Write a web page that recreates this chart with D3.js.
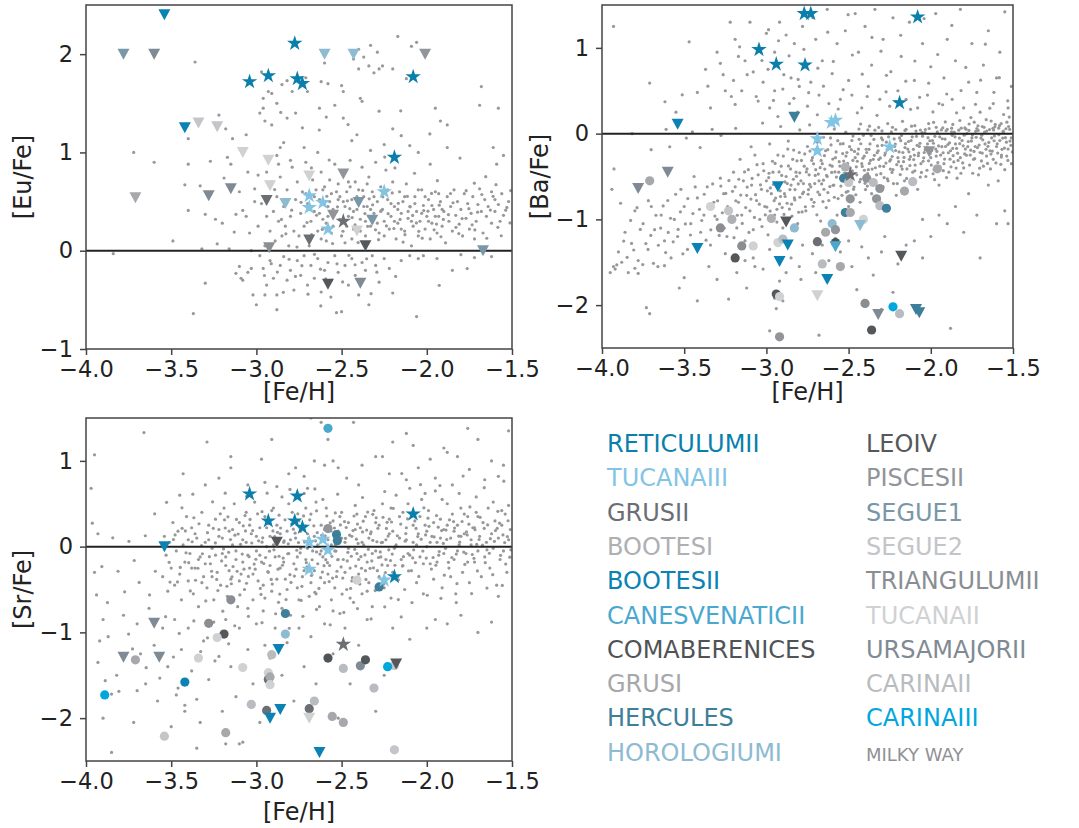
<!DOCTYPE html>
<html><head><meta charset="utf-8">
<script src="https://cdn.jsdelivr.net/npm/d3@7"></script>
<style>body{margin:0;background:#fff}svg{display:block}text{font-family:"DejaVu Sans",sans-serif}</style>
</head><body><svg id="c" width="1079" height="828"></svg>
<script>
const galaxies = ["RETICULUMII","TUCANAIII","GRUSII","BOOTESI","BOOTESII","CANESVENATICII","COMABERENICES","GRUSI","HERCULES","HOROLOGIUMI","LEOIV","PISCESII","SEGUE1","SEGUE2","TRIANGULUMII","TUCANAII","URSAMAJORII","CARINAII","CARINAIII"];
const galaxyColors = ["#0b7fab","#82c4e4","#6b6e72","#aeb0b3","#0a82b4","#4aa8cf","#505356","#a6a8ab","#3d7f9a","#8dbbd1","#55585b","#919499","#7a97a8","#c3c5c8","#8a8d92","#cfd1d3","#7f8a94","#b8bcc0","#00a7de"];
const mwLabel = "MILKY WAY", mwColor = "#989899";
const xTicks = [-4.0,-3.5,-3.0,-2.5,-2.0,-1.5];
const euTicks = [-1,0,1,2], baTicks = [-2,-1,0,1], srTicks = [-2,-1,0,1];

const mwEu = [[-3.84,-0.03],[-3.72,1.0],[-3.6,0.9],[-3.49,0.1],[-3.42,0.67],[-3.4,0.88],[-3.4,1.14],[-3.4,0.41],[-3.37,-0.64],[-3.33,0.66],[-3.3,0.37],[-3.32,0.02],[-3.3,-0.33],[-3.27,0.57],[-3.24,0.32],[-3.23,0.07],[-3.2,0.28],[-3.22,1.38],[-3.18,1.24],[-3.17,0.95],[-3.15,0.88],[-3.16,0.02],[-3.14,1.14],[-3.13,0.19],[-3.12,0.37],[-3.1,-0.16],[-3.12,-0.23],[-3.09,-0.28],[-3.1,0.6],[-3.08,0.41],[-3.06,0.35],[-3.05,0.8],[-3.04,0.18],[-3.03,0.0],[-3.03,-0.18],[-3.02,-0.45],[-3.01,0.5],[-3.0,-0.55],
[-3.36,1.92],[-2.97,1.82],[-2.93,1.62],[-2.91,1.60],[-2.88,1.50],[-2.96,1.55],[-2.96,1.45],[-2.98,1.40],[-2.85,1.69],[-2.82,1.73],[-2.79,1.62],[-2.71,1.76],[-2.70,1.62],[-2.62,1.72],[-2.60,1.91],[-2.58,1.70],[-2.50,1.68],[-2.49,1.62],[-2.43,1.95],[-2.40,2.05],[-2.40,1.85],[-2.37,1.97],[-2.33,2.09],[-2.29,2.02],[-2.26,1.88],[-2.20,1.85],[-2.17,2.18],[-2.12,1.75],[-2.06,2.12],[-2.09,2.08],[-2.31,1.81],[-2.28,1.85],[-2.34,1.88],[-2.38,1.52],[-2.39,1.55],[-2.28,1.42],[-2.41,1.18],[-2.49,1.35],[-2.54,1.48],[-2.63,1.45],[-2.59,1.36],[-2.77,1.40],[-2.82,1.35],[-2.91,1.28],[-2.95,1.32],[-2.20,1.24],[-1.95,1.45],[-1.92,1.32],[-1.88,1.28],[-1.68,1.67],[-1.69,1.48],[-1.58,1.45],[-1.55,0.97],[-1.61,1.05],[-1.59,0.88],[-1.88,1.05],[-1.98,0.88],[-2.05,1.0],[-2.1,1.07],[-2.15,1.17],[-2.25,1.08],[-2.33,1.02],[-2.44,1.12],[-2.64,1.0],[-2.73,1.25],[-2.72,1.05],[-2.80,0.92],[-2.86,1.05],[-2.88,0.97],[-2.87,0.88],[-2.84,1.1],[-2.94,0.8],[-2.99,0.77],[-3.01,0.63],[-2.91,0.7],
[-1.52,0.50],[-1.53,0.44],[-1.55,0.36],[-1.56,0.58],[-1.57,0.30],[-1.58,0.47],[-1.60,0.52],[-1.60,0.40],[-1.62,0.60],[-1.62,0.28],[-1.64,0.45],[-1.65,0.35],[-1.66,0.52],[-1.67,0.18],[-1.68,0.40],[-1.69,0.63],[-1.70,0.47],[-1.71,0.30],[-1.72,0.12],[-1.73,0.55],[-1.74,0.38],[-1.75,0.22],[-1.76,0.48],[-1.77,0.33],[-1.78,0.58],[-1.79,0.15],[-1.80,0.42],[-1.81,0.27],[-1.82,0.50],[-1.83,0.36],[-1.84,0.62],[-1.85,0.20],[-1.86,0.45],[-1.87,0.30],[-1.88,0.55],[-1.89,0.08],[-1.90,0.40],[-1.91,0.25],[-1.92,0.50],[-1.93,0.35],[-1.94,0.18],[-1.95,0.60],[-1.96,0.42],[-1.97,0.28],[-1.98,0.12],[-1.99,0.52],[-2.00,0.35],[-2.01,0.22],[-2.02,0.46],[-2.03,0.62],[-2.04,0.30],[-2.05,0.15],[-2.06,0.40],[-2.07,0.55],[-2.08,0.25],[-2.09,0.05],[-2.10,0.45],[-2.11,0.33],[-2.12,0.68],[-2.13,0.20],[-2.14,0.50],[-2.15,0.38],[-2.16,0.60],[-2.17,0.28],[-2.18,0.12],[-2.19,0.45],[-2.20,0.70],[-2.21,0.35],[-2.22,0.22],[-2.23,0.52],[-2.24,0.82],[-2.25,0.30],[-2.26,0.42],[-2.27,0.65],[-2.28,0.18],[-2.29,0.50],[-2.30,0.90],[-2.31,0.38],[-2.32,0.60],[-2.33,0.25],[-2.34,0.75],[-2.35,0.45],[-2.36,0.15],[-2.37,0.55],[-2.38,0.85],[-2.39,0.32],[-2.40,0.62],[-2.41,0.42],[-2.42,0.70],[-2.43,0.22],[-2.44,0.52],[-2.45,0.92],[-2.46,0.35],[-2.47,0.60],[-2.48,0.45],[-2.49,0.78],[-2.50,0.15],[-2.51,0.55],[-2.52,0.68],[-2.53,0.40],[-2.54,0.88],[-2.55,0.25],[-2.56,0.58],[-2.57,0.72],[-2.58,0.45],[-2.59,0.10],[-2.60,0.65],[-2.61,0.32],[-2.62,0.80],[-2.63,0.52],[-2.64,0.20],[-2.65,0.62],[-2.66,0.40],[-2.67,0.72],[-2.68,0.30],[-2.69,0.05],[-2.70,0.48],[-2.71,0.90],[-2.72,0.25],[-2.73,0.60],[-2.74,0.38],[-2.75,0.15],[-2.76,0.70],[-2.77,0.52],[-2.78,0.20],[-2.79,0.85],[-2.80,0.35],[-2.81,0.05],[-2.82,0.62],[-2.83,0.25],[-2.84,0.45],[-2.85,0.15],[-2.86,0.75],[-2.87,0.30],[-2.88,0.55],[-2.89,0.10],[-2.90,0.40],[-2.92,0.20],[-2.94,0.35],[-2.95,0.05],[-2.97,0.48],[-2.99,0.25],
[-2.98,-0.05],[-2.96,-0.18],[-2.94,-0.35],[-2.92,-0.10],[-2.90,-0.28],[-2.88,-0.45],[-2.86,-0.15],[-2.84,-0.06],[-2.82,-0.30],[-2.80,-0.20],[-2.78,-0.40],[-2.76,-0.10],[-2.74,-0.25],[-2.72,-0.05],[-2.70,-0.35],[-2.68,-0.15],[-2.66,-0.28],[-2.64,-0.08],[-2.62,-0.42],[-2.60,-0.20],[-2.58,-0.12],[-2.56,-0.30],[-2.54,-0.05],[-2.52,-0.22],[-2.50,-0.62],[-2.48,-0.15],[-2.46,-0.35],[-2.44,-0.08],[-2.42,-0.25],[-2.40,-0.45],[-2.38,-0.12],[-2.36,-0.20],[-2.34,-0.55],[-2.32,-0.05],[-2.30,-0.15],[-2.28,-0.32],[-2.25,-0.08],[-2.22,-0.18],[-2.20,-0.43],[-2.15,-0.10],[-2.10,-0.05],[-2.05,-0.08],[-2.02,-0.05],[-1.94,-0.08],[-1.85,-0.20],[-1.80,-0.04],[-1.72,-0.07],[-1.62,-0.06],[-2.06,-0.67],[-2.53,-0.63],[-2.88,-0.60],[-2.95,-0.45],[-3.05,-0.22],[-3.08,-0.30],
[-2.71,0.58],[-2.69,0.42],[-2.66,0.55],[-2.63,0.38],[-2.61,0.62],[-2.59,0.28],[-2.57,0.50],[-2.55,0.42],[-2.53,0.60],[-2.51,0.32],[-2.49,0.50],[-2.47,0.25],[-2.45,0.65],[-2.43,0.40],[-2.41,0.55],[-2.39,0.20],[-2.37,0.45],[-2.35,0.68],[-2.33,0.42],[-2.31,0.55],[-2.29,0.28],[-2.27,0.40],[-2.25,0.15],[-2.23,0.62],[-2.21,0.48],[-2.19,0.30],[-2.17,0.42],[-2.15,0.22],[-2.13,0.55],[-2.11,0.40],[-2.09,0.30],[-2.07,0.48],[-2.05,0.62],[-2.03,0.38],[-2.01,0.55],[-1.99,0.30],[-1.97,0.46],[-1.95,0.35],[-1.93,0.58],[-1.91,0.42],[-2.62,0.12],[-2.56,0.18],[-2.48,0.08],[-2.44,0.12],[-2.36,0.30],[-2.58,0.35],[-2.52,0.52],[-2.46,0.70],[-2.40,0.52],[-2.34,0.35]];
const mwEuExtra = [[-1.537,0.412],[-1.583,0.238],[-1.611,0.553],[-1.648,0.127],[-1.702,0.392],[-1.734,0.263],[-1.769,0.611],[-1.812,0.174],[-1.846,0.488],[-1.873,0.367],[-1.917,0.142],[-1.943,0.271],[-1.972,0.583],[-2.018,0.408],[-2.047,0.197],[-2.083,0.359],[-2.114,0.553],[-2.139,0.088],[-2.167,0.482],[-2.193,0.226],[-2.227,0.377],[-2.258,0.548],[-2.283,0.112],[-2.318,0.467],[-2.347,0.248],[-2.376,0.613],[-2.403,0.083],[-2.438,0.337],[-2.466,0.508],[-2.492,0.198],[-2.524,0.447],[-2.553,0.073],[-2.587,0.554],[-2.613,0.217],[-2.647,0.361],[-2.676,0.163],[-2.703,0.287],[-2.738,0.492],[-2.762,0.038],[-2.793,0.412],[-2.827,0.172],[-2.853,0.318],[-2.893,0.622],[-2.913,-0.132],[-2.877,-0.217],[-2.842,-0.423],[-2.808,-0.087],[-2.771,-0.262],[-2.733,-0.152],[-2.697,-0.442],[-2.659,-0.037],[-2.624,-0.188],[-2.593,-0.287],[-2.563,-0.472],[-2.527,-0.133],[-2.494,-0.318],[-2.457,-0.047],[-2.421,-0.143],[-2.389,-0.292],[-2.353,-0.082],[-2.327,-0.437],[-2.293,-0.218],[-1.563,0.152],[-1.627,0.413],[-1.677,0.572],[-1.718,0.212],[-1.753,0.428],[-1.793,0.327],[-1.829,0.238],[-1.861,0.582],[-1.903,0.318],[-1.927,0.463],[-1.957,0.213],[-1.993,0.402],[-2.027,0.128],[-2.061,0.283],[-2.097,0.447],[-2.128,0.163],[-2.157,0.318],[-2.203,0.588],[-2.237,0.252],[-2.268,0.408],[-2.301,0.213],[-2.338,0.528],[-2.363,0.378],[-2.421,0.263],[-2.452,0.428],[-1.512,0.283],[-1.508,0.612],[-1.594,0.672],[-1.654,0.753],[-1.721,0.687],[-1.938,0.713],[-2.072,0.788],[-2.187,0.842],[-2.247,0.953],[-2.573,0.923],[-2.677,0.842],[-3.06,1.18],[-3.19,0.74],[-3.27,0.91],[-2.857,1.407],[-2.631,1.228],[-2.462,1.283],[-2.153,1.423],[-1.982,1.188],[-1.805,0.943],[-1.763,-0.182],[-1.927,-0.352],[-2.183,-0.262],[-2.622,-0.562],[-2.953,-0.252]];

const mwBa = [[-3.93,1.25],[-3.71,0.59],[-3.47,1.07],[-3.42,0.48],[-3.37,0.75],[-3.30,0.95],[-3.28,0.82],[-3.25,0.50],[-3.22,1.30],[-3.20,0.62],[-3.19,1.10],[-3.17,0.90],[-3.15,0.50],[-3.13,0.85],[-3.10,1.30],[-3.08,0.72],[-3.05,0.38],[-3.02,0.60],[-3.00,1.17],[-2.98,0.30],[-2.95,0.95],[-2.92,1.30],[-2.90,0.52],[-2.88,1.15],[-2.86,0.35],[-2.85,0.65],[-2.83,1.05],[-2.80,0.55],[-2.78,1.25],[-2.75,0.32],[-2.73,0.60],[-2.70,1.10],[-2.68,0.45],[-2.66,0.85],[-2.63,1.45],[-2.62,0.35],[-2.60,0.70],[-2.57,1.05],[-2.55,0.40],[-2.52,1.20],[-2.50,0.62],[-2.48,0.45],[-2.46,1.40],[-2.44,0.95],[-2.42,0.30],[-2.40,1.25],[-2.38,0.55],[-2.36,0.80],[-2.34,1.45],[-2.31,0.40],[-2.29,1.10],[-2.27,0.68],[-2.25,0.32],[-2.23,1.35],[-2.20,0.50],[-2.18,0.90],[-2.15,0.40],[-2.13,1.30],[-2.10,0.62],[-2.08,0.30],[-2.05,1.05],[-2.02,0.45],[-2.00,0.78],[-1.97,1.40],[-1.95,0.35],[-1.92,0.65],[-1.90,1.10],[-1.87,0.40],[-1.85,0.85],[-1.82,1.45],[-1.80,0.30],[-1.77,0.60],[-1.75,1.05],[-1.72,0.48],[-1.70,0.25],[-1.68,0.80],[-1.65,1.20],[-1.62,0.35],[-1.60,0.65],[-1.58,0.95],[-1.55,1.42],[-1.53,0.30],[-1.51,0.55],[-2.95,0.50],[-2.99,0.75],[-2.93,0.20],[-2.81,0.25],[-2.69,0.22],[-3.19,0.34],[-3.34,0.30],[-3.55,0.25],[-3.61,0.05],[-3.45,0.02],[-3.33,0.05],
[-1.51,-0.05],[-1.51,-0.35],[-1.52,0.05],[-1.53,-0.18],[-1.54,-0.10],[-1.55,-0.42],[-1.56,0.02],[-1.57,-0.25],[-1.58,-0.08],[-1.59,-0.55],[-1.60,-0.15],[-1.61,0.08],[-1.62,-0.30],[-1.63,-0.05],[-1.64,-0.20],[-1.65,-0.60],[-1.66,0.03],[-1.67,-0.12],[-1.68,-0.38],[-1.69,-0.02],[-1.70,-0.22],[-1.71,-0.48],[-1.72,0.06],[-1.73,-0.15],[-1.74,-0.30],[-1.75,-0.05],[-1.76,-0.25],[-1.77,-0.70],[-1.78,0.00],[-1.79,-0.18],[-1.80,-0.40],[-1.81,-0.08],[-1.82,-0.28],[-1.83,0.04],[-1.84,-0.52],[-1.85,-0.12],[-1.86,-0.33],[-1.87,-0.02],[-1.88,-0.20],[-1.89,-0.45],[-1.90,0.05],[-1.91,-0.15],[-1.92,-0.35],[-1.93,-0.06],[-1.94,-0.25],[-1.95,-0.60],[-1.96,0.02],[-1.97,-0.18],[-1.98,-0.42],[-1.99,-0.08],[-2.00,-0.28],[-2.01,0.06],[-2.02,-0.12],[-2.03,-0.50],[-2.04,-0.22],[-2.05,-0.03],[-2.06,-0.35],[-2.07,-0.15],[-2.08,-0.65],[-2.09,0.03],[-2.10,-0.25],[-2.11,-0.45],[-2.12,-0.08],[-2.13,-0.30],[-2.14,-0.18],[-2.15,0.05],[-2.16,-0.55],[-2.17,-0.22],[-2.18,-0.38],[-2.19,-0.05],[-2.20,-0.28],[-2.21,-0.72],[-2.22,-0.15],[-2.23,-0.42],[-2.24,0.02],[-2.25,-0.32],[-2.26,-0.55],[-2.27,-0.10],[-2.28,-0.25],[-2.29,-0.62],[-2.30,-0.05],[-2.31,-0.38],[-2.32,-0.20],[-2.33,-0.48],[-2.34,0.04],[-2.35,-0.30],[-2.36,-0.70],[-2.37,-0.12],[-2.38,-0.42],[-2.39,-0.22],[-2.40,-0.58],[-2.41,-0.02],[-2.42,-0.35],[-2.43,-0.80],[-2.44,-0.18],[-2.45,-0.48],[-2.46,-0.28],[-2.47,-0.65],[-2.48,-0.08],[-2.49,-0.40],[-2.50,-0.85],[-2.51,-0.22],[-2.52,-0.55],[-2.53,-0.32],[-2.54,-0.72],[-2.55,-0.12],[-2.56,-0.45],[-2.57,-0.95],[-2.58,-0.28],[-2.59,-0.60],[-2.60,-0.38],[-2.61,-0.05],[-2.62,-0.78],[-2.63,-0.50],[-2.64,-0.20],[-2.65,-0.65],[-2.66,-0.35],[-2.67,-1.02],[-2.68,-0.55],[-2.69,-0.10],[-2.70,-0.42],[-2.71,-0.80],[-2.72,-0.28],[-2.73,-0.62],[-2.74,-0.48],[-2.75,-0.15],[-2.76,-0.90],[-2.77,-0.38],[-2.78,-0.70],[-2.79,-0.55],[-2.80,-0.22],[-2.81,-1.05],[-2.82,-0.45],[-2.83,-0.75],[-2.84,-0.30],[-2.85,-0.60],[-2.86,-0.88],[-2.87,-0.18],[-2.88,-0.50],[-2.89,-0.70],[-2.90,-1.10],[-2.91,-0.38],[-2.92,-0.82],[-2.93,-0.25],[-2.94,-0.58],[-2.95,-0.95],[-2.96,-0.45],[-2.97,-0.70],[-2.98,-0.12],[-2.99,-1.18],[-3.00,-0.55],[-3.01,-0.85],[-3.02,-0.35],[-3.03,-0.65],[-3.04,-1.00],[-3.05,-0.48],[-3.06,-0.78],[-3.07,-0.25],[-3.08,-1.12],[-3.09,-0.60],[-3.10,-0.90],[-3.11,-0.42],[-3.12,-0.72],[-3.13,-1.25],[-3.14,-0.55],[-3.15,-0.95],[-3.16,-0.30],[-3.17,-0.80],[-3.18,-1.10],[-3.19,-0.62],[-3.20,-0.45],[-3.22,-0.88],[-3.24,-1.20],[-3.26,-0.70],[-3.28,-0.52],[-3.30,-1.00],[-3.32,-0.80],[-3.34,-1.30],[-3.36,-0.62],[-3.38,-0.95],[-3.40,-1.15],[-3.42,-0.75],[-3.44,-0.50],[-3.46,-1.05],[-3.48,-1.35],[-3.50,-0.85],[-3.52,-0.65],[-3.54,-1.20],[-3.56,-1.00],[-3.58,-1.45],[-3.60,-0.78],[-3.62,-1.25],[-3.64,-0.95],[-3.66,-1.55],[-3.68,-1.12],[-3.70,-0.85],[-3.72,-1.35],[-3.75,-1.05],[-3.78,-1.48],[-3.80,-0.90],[-3.82,-1.28],[-3.84,-1.62],[-3.86,-1.15],[-3.88,-1.50],[-3.90,-1.38],[-3.92,-1.58],[-3.94,-0.65],[-3.95,-1.62],[-3.93,-1.55],[-3.91,-1.53],[-3.80,-1.57],[-3.78,-1.63],
[-3.35,-1.55],[-3.30,-1.70],[-3.25,-1.40],[-3.18,-1.62],[-3.12,-1.80],[-3.08,-1.45],[-3.02,-1.58],[-2.98,-1.35],[-2.95,-1.92],[-2.92,-1.72],[-2.88,-1.62],[-2.85,-1.45],[-2.80,-1.55],[-2.78,-1.30],[-2.72,-1.40],[-2.70,-1.62],[-2.66,-1.30],[-2.62,-1.48],[-2.58,-1.22],[-2.55,-1.38],[-2.50,-1.25],[-2.48,-1.55],[-2.42,-1.32],[-2.38,-1.45],[-2.35,-1.65],[-2.30,-1.38],[-2.28,-1.20],[-2.20,-1.52],[-2.15,-1.30],[-2.10,-1.25],[-2.00,-1.20],[-1.90,-1.05],[-1.80,-1.15],[-1.72,-0.95],[-1.60,-1.05],[-1.55,-0.90],[-1.53,-1.05],[-1.70,-1.45],[-1.85,-0.85],[-1.95,-0.95],[-2.05,-1.00],[-3.73,-2.03],[-3.71,-2.10],[-3.23,-1.93],[-3.53,-1.80],[-3.62,-1.54],[-3.50,-1.68],[-3.42,-1.95],[-2.79,-1.70],[-2.68,-2.35],[-2.98,-2.30],[-2.30,-2.05],[-2.45,-1.82],[-1.88,-2.27],[-2.05,-1.45],[-2.23,-1.85],[-3.07,-1.55],[-3.13,-1.48],[-2.94,-2.04],[-2.90,-1.95]];
const mwBaExtra = [[-1.513,-0.137],[-1.527,0.083],[-1.538,-0.262],[-1.546,-0.047],[-1.559,0.028],[-1.567,-0.183],[-1.574,-0.358],[-1.586,-0.012],[-1.593,-0.227],[-1.608,0.107],[-1.615,-0.083],[-1.626,-0.203],[-1.637,-0.412],[-1.643,0.047],[-1.652,-0.148],[-1.661,-0.262],[-1.673,0.018],[-1.684,-0.072],[-1.692,-0.318],[-1.706,-0.133],[-1.713,0.092],[-1.724,-0.042],[-1.737,-0.207],[-1.745,-0.462],[-1.753,-0.087],[-1.768,0.037],[-1.775,-0.152],[-1.783,-0.252],[-1.797,-0.018],[-1.806,-0.342],[-1.815,0.063],[-1.824,-0.117],[-1.837,-0.228],[-1.846,-0.402],[-1.853,-0.037],[-1.867,-0.173],[-1.874,0.022],[-1.883,-0.298],[-1.896,-0.127],[-1.904,-0.512],[-1.913,-0.063],[-1.925,-0.223],[-1.936,0.043],[-1.944,-0.388],[-1.953,-0.143],[-1.967,-0.262],[-1.975,-0.032],[-1.986,-0.468],[-1.994,-0.197],[-2.006,-0.083],[-2.014,-0.317],[-2.027,-0.162],[-2.036,0.012],[-2.043,-0.282],[-2.057,-0.453],[-2.066,-0.113],[-2.074,-0.227],[-2.087,-0.032],[-2.095,-0.367],[-2.106,-0.183],[-2.117,-0.562],[-2.124,-0.268],[-2.136,-0.092],[-2.145,-0.412],[-2.157,-0.163],[-2.166,-0.327],[-2.178,-0.022],[-2.186,-0.478],[-2.193,-0.213],[-2.207,-0.362],[-2.216,-0.122],[-2.227,-0.583],[-2.235,-0.267],[-2.246,-0.413],[-2.257,-0.037],[-2.266,-0.188],[-2.273,-0.343],[-2.284,-0.512],[-2.296,-0.137],[-2.307,-0.283],[-2.313,-0.622],[-2.326,-0.222],[-2.337,-0.398],[-2.346,-0.068],[-2.353,-0.547],[-2.367,-0.312],[-2.376,-0.183],[-2.384,-0.467],[-2.397,-0.653],[-2.405,-0.263],[-2.417,-0.383],[-2.426,-0.118],[-2.433,-0.562],[-2.447,-0.322],[-2.456,-0.713],[-2.464,-0.207],[-2.477,-0.433],[-2.486,-0.563],[-2.494,-0.152],[-2.506,-0.347],[-2.514,-0.683],[-2.523,-0.487],[-2.536,-0.233],[-2.547,-0.612],[-2.553,-0.378],[-2.566,-0.082],[-2.574,-0.507],[-2.587,-0.742],[-2.596,-0.297],[-2.603,-0.453],[-2.614,-0.617],[-2.627,-0.187],[-2.636,-0.862],[-2.645,-0.413],[-2.653,-0.543],[-2.667,-0.313],[-2.676,-0.712],[-2.684,-0.472],[-2.693,-0.947],[-2.706,-0.583],[-2.713,-0.352],[-2.726,-0.767],[-2.735,-0.203],[-2.744,-0.653],[-2.757,-0.447],[-2.763,-0.853],[-2.775,-0.582],[-2.787,-0.312],[-2.796,-0.742],[-2.804,-0.917],[-2.817,-0.497],[-2.826,-0.653],[-2.834,-0.192],[-2.847,-0.823],[-2.853,-0.412],[-2.864,-0.992],[-2.873,-0.583],[-2.886,-0.733],[-2.897,-0.262],[-2.904,-0.862],[-2.916,-0.667],[-2.923,-0.447],[-2.936,-1.032],[-2.944,-0.752],[-2.957,-0.593],[-2.963,-0.322],[-2.977,-0.903],[-2.986,-0.512],[-2.994,-0.667],[-3.007,-0.947],[-3.016,-0.433],[-3.027,-1.083],[-3.036,-0.597],[-3.043,-0.823],[-3.057,-0.362],[-3.066,-0.712],[-3.073,-0.977],[-3.087,-0.523],[-3.094,-0.763],[-3.106,-1.152],[-3.117,-0.623],[-3.126,-0.862],[-3.133,-0.447],[-3.147,-1.047],[-3.156,-0.717],[-3.168,-0.532],[-3.177,-0.952],[-3.186,-0.783],[-3.197,-1.213],[-3.206,-0.673],[-3.217,-1.022],[-3.228,-0.547],[-3.236,-0.852],[-3.247,-0.697],[-3.257,-1.103],[-3.268,-0.923],[-3.277,-0.612],[-3.287,-1.187],[-3.297,-0.783],[-3.313,-0.962],[-3.327,-0.587],[-3.338,-1.122],[-3.352,-0.857],[-3.367,-1.243],[-3.378,-0.707],[-3.393,-1.013],[-3.407,-0.883],[-3.418,-1.307],[-3.433,-0.622],[-3.447,-0.932],[-3.462,-1.182],[-3.478,-0.757],[-3.493,-1.053],[-3.508,-1.402],[-3.523,-0.912],[-3.537,-1.117],[-3.552,-0.707],[-3.567,-1.262],[-3.583,-0.987],[-3.597,-1.152],[-3.613,-1.387],[-3.628,-0.843],[-3.643,-1.102],[-3.657,-1.302],[-3.672,-0.952],[-3.687,-1.512],[-3.703,-1.187],[-3.718,-0.782],[-3.733,-1.282],[-3.752,-1.527],[-3.767,-1.117],[-3.787,-0.863],[-3.807,-1.357],[-3.826,-1.012],[-3.847,-1.443],[-3.868,-1.253],[-3.887,-0.812],
[-1.532,0.382],[-1.557,0.223],[-1.583,0.652],[-1.616,0.482],[-1.641,0.297],[-1.668,1.043],[-1.697,0.623],[-1.728,0.342],[-1.756,0.187],[-1.787,0.772],[-1.816,0.502],[-1.843,0.243],[-1.872,1.262],[-1.903,0.462],[-1.928,0.337],[-1.958,0.923],[-1.987,0.253],[-2.013,0.588],[-2.041,1.342],[-2.068,0.423],[-2.097,0.847],[-2.123,0.283],[-2.152,0.612],[-2.183,1.147],[-2.213,0.377],[-2.243,0.723],[-2.272,0.487],[-2.303,0.962],[-2.327,0.213],[-2.358,1.122],[-2.387,0.433],[-2.417,0.693],[-2.447,0.242],[-2.477,0.917],[-2.503,1.387],[-2.533,0.512],[-2.563,0.287],[-2.593,0.842],[-2.627,1.183],[-2.653,0.553],[-2.687,0.763],[-2.717,1.352],[-2.743,0.477],[-2.772,0.983],[-2.807,0.632],[-2.833,0.412],[-2.862,0.907],[-2.894,0.687],[-2.926,1.083],[-2.957,0.387],[-2.987,1.212],[-3.027,0.853],[-3.062,0.433],[-3.117,0.687],[-3.163,1.012],[-3.213,0.433],[-3.263,0.687],[-3.356,0.553],[-3.512,0.452],[-3.617,0.372],[-3.817,0.0],[-3.927,-0.412],[-3.701,-0.187],[-3.588,-0.153],[-3.487,-0.052],[-3.403,-0.163],[-3.276,-0.022],[-3.187,0.062],[-3.093,-0.153],[-3.023,0.123],[-2.913,0.083],[-2.867,-0.087],[-2.797,0.043],[-2.737,0.102],[-2.653,-0.042],[-2.587,0.053],[-2.517,0.017],[-2.473,-0.028],[-2.427,0.112],[-2.383,0.043],[-2.317,0.072],[-2.262,0.117],[-2.213,0.048],[-2.172,0.143],[-2.117,0.087],[-2.063,0.042],[-2.013,0.117],[-1.967,0.073],[-1.912,0.137],[-1.873,0.063],[-1.823,0.153],[-1.767,0.112],[-1.712,0.037],[-1.663,0.163],[-1.618,0.043],[-1.572,0.117],[-1.523,0.193]];
const mwBaCore = [[-1.504,-0.213],[-1.518,-0.087],[-1.531,-0.312],[-1.543,0.057],[-1.552,-0.168],[-1.563,-0.052],[-1.571,-0.273],[-1.582,0.093],[-1.596,-0.118],[-1.604,-0.342],[-1.613,-0.027],[-1.622,0.062],[-1.634,-0.238],[-1.647,-0.103],[-1.655,-0.347],[-1.664,-0.182],[-1.676,0.073],[-1.687,-0.227],[-1.695,-0.052],[-1.703,-0.403],[-1.716,-0.163],[-1.727,0.027],[-1.733,-0.292],[-1.747,-0.017],[-1.757,-0.193],[-1.764,-0.367],[-1.772,-0.092],[-1.786,0.052],[-1.794,-0.237],[-1.803,-0.142],[-1.817,-0.462],[-1.826,-0.052],[-1.834,-0.312],[-1.843,-0.173],[-1.857,0.017],[-1.864,-0.257],[-1.877,-0.387],[-1.886,-0.107],[-1.893,-0.223],[-1.907,0.033],[-1.916,-0.297],[-1.924,-0.432],[-1.933,-0.152],[-1.946,-0.037],[-1.957,-0.337],[-1.963,-0.207],[-1.977,-0.537],[-1.984,-0.112],[-1.997,-0.367],[-2.004,-0.233],[-2.017,-0.047],[-2.023,-0.427],[-2.034,-0.187],[-2.047,-0.322],[-2.053,0.013],[-2.064,-0.507],[-2.076,-0.257],[-2.083,-0.137],[-2.097,-0.433],[-2.104,-0.303],[-2.113,-0.037],[-2.127,-0.372],[-2.133,-0.212],[-2.147,-0.522],[-2.154,-0.117],[-2.163,-0.277],[-2.174,-0.413],[-2.183,-0.082],[-2.196,-0.327],[-2.204,-0.583],[-2.214,-0.197],[-2.223,-0.062],[-2.236,-0.453],[-2.244,-0.303],[-2.253,-0.147],[-2.264,-0.527],[-2.277,-0.227],[-2.286,-0.383],[-2.293,-0.072],[-2.304,-0.467],[-2.317,-0.302],[-2.324,-0.143],[-2.336,-0.587],[-2.343,-0.253],[-2.357,-0.413],[-2.363,-0.022],[-2.374,-0.347],[-2.386,-0.612],[-2.393,-0.182],[-2.404,-0.427],[-2.413,-0.287],[-2.427,-0.532],[-2.436,-0.067],[-2.444,-0.237],[-2.453,-0.387],[-2.467,-0.623],[-2.474,-0.312],[-2.483,-0.187],[-2.497,-0.497],[-2.504,-0.672],[-2.516,-0.262],[-2.527,-0.412],[-2.533,-0.117],[-2.544,-0.537],[-2.557,-0.327],[-2.564,-0.757],[-2.576,-0.213],[-2.583,-0.447],[-2.594,-0.603],[-2.607,-0.132],[-2.613,-0.367],[-2.626,-0.687],[-2.634,-0.487],[-2.647,-0.257],[-2.656,-0.793],[-2.664,-0.587],[-2.673,-0.397],[-2.687,-0.682],[-2.694,-0.177],[-2.703,-0.487],[-2.716,-0.847],[-2.724,-0.312],[-2.737,-0.593],[-2.746,-0.707],[-2.753,-0.412],[-2.767,-0.237],[-2.774,-0.682],[-2.783,-0.913],[-2.797,-0.457],[-2.806,-0.587],[-2.814,-0.317],[-2.827,-0.773],[-2.836,-0.532],[-2.844,-0.962],[-2.857,-0.652],[-2.866,-0.377],[-2.874,-0.812],[-2.887,-0.563],[-2.893,-0.942],[-2.907,-0.487],[-2.914,-0.733],[-2.927,-0.613],[-2.936,-0.883],[-2.947,-0.347],[-2.953,-0.782],[-2.967,-1.003],[-2.976,-0.633],[-2.984,-0.462],[-2.997,-0.857],[-2.437,0.053],[-2.373,0.087],[-2.297,0.032],[-2.233,0.073],[-2.157,0.037],[-2.097,0.093],[-2.033,0.047],[-1.983,0.132],[-1.927,0.068],[-1.866,0.107],[-1.793,0.067],[-1.736,0.133],[-1.687,0.083],[-1.633,0.147],[-1.587,0.063],[-1.537,0.133]];

const mwSr = [[-3.55,-0.35],[-3.54,0.12],[-3.53,-0.10],[-3.52,-0.52],[-3.51,0.05],[-3.50,-0.25],[-3.49,0.28],[-3.48,-0.45],[-3.47,-0.05],[-3.46,0.18],[-3.45,-0.32],[-3.44,-0.62],[-3.43,0.02],[-3.42,-0.18],[-3.41,0.35],[-3.40,-0.40],[-3.39,-0.08],[-3.38,0.22],[-3.37,-0.55],[-3.36,-0.25],[-3.35,0.10],[-3.34,-0.70],[-3.33,-0.12],[-3.32,0.40],[-3.31,-0.35],[-3.30,0.05],[-3.29,-0.48],[-3.28,0.25],[-3.27,-0.20],[-3.26,-0.02],[-3.25,-0.62],[-3.24,0.32],[-3.23,-0.30],[-3.22,0.12],[-3.21,-0.45],[-3.20,-0.08],[-3.19,0.45],[-3.18,-0.22],[-3.17,-0.58],[-3.16,0.18],[-3.15,-0.38],[-3.14,0.02],[-3.13,0.50],[-3.12,-0.15],[-3.11,-0.70],[-3.10,0.28],[-3.09,-0.32],[-3.08,0.08],[-3.07,-0.50],[-3.06,0.40],[-3.05,-0.10],[-3.04,-0.25],[-3.03,0.15],[-3.02,-0.62],[-3.01,0.52],[-3.00,-0.05],[-2.99,-0.40],[-2.98,0.22],[-2.97,-0.18],[-2.96,-0.75],[-2.95,0.35],[-2.94,0.00],[-2.93,-0.30],[-2.92,0.12],[-2.91,-0.52],[-2.90,0.45],[-2.89,-0.12],[-2.88,0.25],[-2.87,-0.65],[-2.86,-0.25],[-2.85,0.58],[-2.84,0.05],[-2.83,-0.38],[-2.82,0.18],[-2.81,-0.08],[-2.80,-0.80],[-2.79,0.40],[-2.78,-0.20],[-2.77,0.10],[-2.76,-0.48],[-2.75,0.30],[-2.74,-0.02],[-2.73,-0.35],[-2.72,0.62],[-2.71,-0.15],[-2.70,0.15],[-2.69,-0.58],[-2.68,0.38],[-2.67,-0.05],[-2.66,-0.28],[-2.65,0.52],[-2.64,0.02],[-2.63,-0.70],[-2.62,0.25],[-2.61,-0.12],[-2.60,-0.42],[-2.59,0.45],[-2.58,0.08],[-2.57,-0.22],[-2.56,-0.62],[-2.55,0.30],[-2.54,-0.05],[-2.53,-0.35],[-2.52,0.18],[-2.51,-0.78],[-2.50,0.40],[-2.49,-0.15],[-2.48,0.05],[-2.47,-0.50],[-2.46,0.28],[-2.45,-0.25],[-2.44,0.12],[-2.43,-0.65],[-2.42,0.48],[-2.41,-0.08],[-2.40,-0.32],[-2.39,0.22],[-2.38,-0.55],[-2.37,0.02],[-2.36,0.35],[-2.35,-0.18],[-2.34,-0.42],[-2.33,0.15],[-2.32,-0.70],[-2.31,0.42],[-2.30,-0.05],[-2.29,-0.28],[-2.28,0.25],[-2.27,-0.12],[-2.26,0.50],[-2.25,-0.48],[-2.24,0.08],[-2.23,-0.22],[-2.22,0.32],[-2.21,-0.60],[-2.20,0.18],[-2.19,-0.02],[-2.18,0.60],[-2.17,-0.35],[-2.16,0.10],[-2.15,-0.15],[-2.14,0.40],[-2.13,-0.50],[-2.12,0.22],[-2.11,-0.08],[-2.10,0.68],[-2.09,-0.28],[-2.08,0.05],[-2.07,0.30],[-2.06,-0.42],[-2.05,0.15],[-2.04,-0.12],[-2.03,0.55],[-2.02,-0.55],[-2.01,0.25],[-2.00,0.00],[-1.99,0.42],[-1.98,-0.20],[-1.97,0.12],[-1.96,-0.38],[-1.95,0.65],[-1.94,0.05],[-1.93,-0.10],[-1.92,0.32],[-1.91,-0.48],[-1.90,0.20],[-1.89,-0.02],[-1.88,0.50],[-1.87,-0.25],[-1.86,0.10],[-1.85,0.38],[-1.84,-0.15],[-1.83,-0.55],[-1.82,0.25],[-1.81,0.02],[-1.80,0.45],[-1.79,-0.30],[-1.78,0.15],[-1.77,-0.08],[-1.76,0.35],[-1.75,-0.42],[-1.74,0.08],[-1.73,0.22],[-1.72,-0.18],[-1.71,0.40],[-1.70,-0.05],[-1.69,0.12],[-1.68,-0.35],[-1.67,0.28],[-1.66,-0.12],[-1.65,0.05],[-1.64,0.45],[-1.63,-0.25],[-1.62,0.15],[-1.61,-0.02],[-1.60,0.30],[-1.59,-0.45],[-1.58,0.10],[-1.57,-0.15],[-1.56,0.25],[-1.55,-0.05],[-1.54,0.38],[-1.53,-0.30],[-1.52,0.08],[-1.51,0.20],
[-3.20,0.10],[-3.18,-0.12],[-3.16,-0.28],[-3.14,0.20],[-3.12,-0.05],[-3.10,-0.40],[-3.08,-0.18],[-3.06,0.05],[-3.04,0.25],[-3.02,-0.32],[-3.00,0.12],[-2.98,-0.10],[-2.96,-0.45],[-2.94,0.22],[-2.92,-0.22],[-2.90,0.02],[-2.88,-0.38],[-2.86,0.15],[-2.84,-0.18],[-2.82,-0.50],[-2.80,0.08],[-2.78,0.30],[-2.76,-0.12],[-2.74,0.18],[-2.72,-0.28],[-2.70,-0.02],[-2.68,-0.42],[-2.66,0.12],[-2.64,-0.20],[-2.62,-0.05],[-2.60,0.20],[-2.58,-0.32],[-2.56,0.02],[-2.54,-0.48],[-2.52,-0.15],[-2.50,0.10],[-2.48,-0.30],[-2.46,-0.02],[-2.44,-0.40],[-2.42,0.20],[-2.40,-0.15],[-2.38,0.05],[-2.36,-0.28],[-2.34,0.10],[-2.32,-0.08],[-2.30,0.28],[-2.28,-0.35],[-2.26,0.05],[-2.24,-0.15],[-2.22,0.15],[-2.20,-0.30],[-2.18,0.02],[-2.16,0.35],[-2.14,-0.22],[-2.12,0.08],[-2.10,-0.10],[-2.08,0.25],[-2.06,0.02],[-2.04,0.35],[-2.02,-0.20],[-2.00,0.18],[-1.98,0.05],[-1.96,0.28],[-1.94,-0.18],[-1.92,0.10],[-1.90,-0.08],[-1.88,0.25],[-1.86,-0.35],[-1.84,0.18],[-1.82,-0.05],[-1.80,0.12],[-1.78,0.38],[-1.76,-0.18],[-1.74,0.02],[-1.72,0.22],[-1.70,0.35],[-3.30,-0.20],[-3.28,0.08],[-3.26,-0.35],[-3.24,-0.10],[-3.22,0.20],[-3.40,0.08],[-3.38,-0.25],[-3.36,0.15],[-3.34,-0.15],[-3.32,-0.42],[-2.95,-0.60],[-2.85,-0.72],[-2.75,-0.62],[-2.65,-0.55],[-2.55,-0.75],[-2.45,-0.60],[-2.35,-0.52],[-3.05,-0.72],[-3.15,-0.62],[-2.91,0.42],[-2.81,0.50],[-2.71,0.45],[-2.61,0.55],[-2.51,0.35],[-2.41,0.38],[-2.21,0.45],[-2.11,0.50],[-2.01,0.62],[-1.91,0.55],[-1.81,0.62],[-1.71,0.58],[-1.61,0.52],[-1.56,0.42],[-1.52,0.48],
[-3.95,1.07],[-3.97,0.68],[-3.93,0.15],[-3.66,1.33],[-3.45,0.60],[-3.43,0.85],[-3.30,0.72],[-3.22,0.80],[-3.15,0.92],[-3.05,0.72],[-2.95,0.75],[-2.97,1.02],[-2.88,0.70],[-2.81,0.85],[-2.77,0.92],[-2.72,0.82],[-2.70,0.68],[-2.66,1.00],[-2.62,1.45],[-2.60,0.95],[-2.58,1.25],[-2.55,1.00],[-2.52,0.92],[-2.47,0.80],[-2.40,0.72],[-2.38,0.95],[-2.30,1.05],[-2.22,0.85],[-2.20,1.22],[-2.12,0.78],[-2.08,1.18],[-2.05,0.92],[-1.98,1.02],[-1.95,0.80],[-1.90,1.15],[-1.85,0.72],[-1.82,1.05],[-1.75,0.90],[-1.70,1.25],[-1.66,0.78],[-1.62,1.00],[-1.58,0.82],[-1.55,0.95],[-1.52,1.35],[-2.68,1.50],[-2.91,1.25],[-3.29,1.22],[-3.15,1.05],[-2.43,1.45],[-2.12,1.32],[-1.76,1.38],[-1.88,1.10],[-2.26,1.05],
[-3.95,-0.30],[-3.90,-0.85],[-3.92,-1.10],[-3.93,-1.35],[-3.87,-1.05],[-3.85,-1.72],[-3.82,-1.50],[-3.78,-0.80],[-3.75,-1.02],[-3.72,-2.05],[-3.70,-0.90],[-3.68,-1.25],[-3.65,-1.60],[-3.63,-0.72],[-3.60,-1.15],[-3.58,-1.80],[-3.55,-0.95],[-3.52,-1.40],[-3.50,-2.10],[-3.48,-0.85],[-3.46,-1.65],[-3.44,-1.20],[-3.42,-1.85],[-3.40,-0.95],[-3.38,-1.45],[-3.35,-1.78],[-3.33,-2.05],[-3.31,-1.10],[-3.28,-1.55],[-3.25,-0.88],[-3.22,-1.28],[-3.20,-1.92],[-3.18,-0.85],[-3.15,-1.40],[-3.12,-1.75],[-3.10,-0.95],[-3.08,-2.28],[-3.05,-1.20],[-3.02,-1.60],[-3.00,-0.90],[-2.98,-2.05],[-2.95,-1.15],[-2.92,-1.30],[-2.89,-0.95],[-2.85,-1.50],[-2.82,-1.12],[-2.78,-1.80],[-2.75,-0.95],[-2.72,-1.40],[-2.68,-1.05],[-2.65,-1.60],[-2.60,-0.90],[-2.55,-1.25],[-2.52,-2.00],[-2.48,-0.95],[-2.45,-1.60],[-2.40,-1.15],[-2.35,-0.85],[-2.30,-1.92],[-2.25,-1.50],[-2.20,-0.95],[-2.15,-0.82],[-2.10,-1.08],[-2.00,-0.95],[-1.95,-0.85],[-1.88,-0.90],[-1.80,-0.80],[-1.70,-1.00],[-1.62,-0.88],[-1.58,-0.58],[-3.85,-2.40],[-3.35,-2.35],[-3.18,-2.30],[-3.10,-2.30],[-3.90,-2.00],[-3.70,-1.68],[-3.47,-1.73],[-3.42,-1.92]];
const mwSrExtra = [[-3.512,-0.183],[-3.487,0.083],[-3.463,-0.412],[-3.436,0.213],[-3.413,-0.072],[-3.388,-0.517],[-3.367,0.337],[-3.343,-0.252],[-3.322,0.012],[-3.297,-0.633],[-3.276,-0.117],[-3.253,0.213],[-3.233,-0.383],[-3.212,0.382],[-3.193,-0.027],[-3.173,-0.462],[-3.152,0.082],[-3.137,-0.233],[-3.117,0.317],[-3.097,-0.563],[-3.083,-0.087],[-3.064,0.183],[-3.047,-0.347],[-3.027,0.042],[-3.013,-0.203],[-2.993,0.383],[-2.977,-0.487],[-2.963,0.103],[-2.946,-0.127],[-2.927,0.268],[-2.913,-0.382],[-2.897,-0.037],[-2.876,0.167],[-2.863,-0.553],[-2.847,-0.217],[-2.832,0.312],[-2.816,-0.083],[-2.797,-0.417],[-2.783,0.203],[-2.767,-0.263],[-2.753,0.047],[-2.737,-0.627],[-2.723,0.358],[-2.707,-0.187],[-2.693,0.098],[-2.677,-0.337],[-2.663,0.243],[-2.647,-0.062],[-2.633,-0.487],[-2.617,0.132],[-2.603,-0.222],[-2.587,0.357],[-2.573,-0.407],[-2.557,-0.113],[-2.542,0.217],[-2.527,-0.287],[-2.513,0.063],[-2.497,-0.553],[-2.483,0.292],[-2.467,-0.167],[-2.453,0.133],[-2.437,-0.362],[-2.423,-0.032],[-2.407,0.263],[-2.393,-0.437],[-2.377,0.172],[-2.363,-0.097],[-2.347,0.403],[-2.333,-0.253],[-2.317,0.073],[-2.303,-0.512],[-2.287,0.213],[-2.273,-0.062],[-2.257,0.342],[-2.243,-0.303],[-2.227,0.123],[-2.213,-0.163],[-2.197,0.447],[-2.183,0.003],[-2.167,-0.387],[-2.153,0.263],[-2.137,-0.117],[-2.123,0.152],[-2.107,-0.283],[-2.093,0.387],[-2.077,-0.037],[-2.063,0.212],[-2.047,-0.347],[-2.033,0.087],[-2.017,0.453],[-2.003,-0.133],[-1.987,0.237],[-1.973,-0.262],[-1.957,0.113],[-1.943,0.362],[-1.927,-0.057],[-1.913,0.187],[-1.897,-0.333],[-1.883,0.083],[-1.867,0.312],[-1.853,-0.127],[-1.837,0.217],[-1.823,-0.432],[-1.807,0.052],[-1.793,0.293],[-1.777,-0.207],[-1.763,0.137],[-1.747,0.463],[-1.733,-0.092],[-1.717,0.197],[-1.703,-0.283],[-1.687,0.342],[-1.673,0.017],[-1.657,-0.187],[-1.643,0.253],[-1.627,0.093],[-1.613,-0.327],[-1.597,0.187],[-1.583,0.412],[-1.567,-0.102],[-1.553,0.137],[-1.537,-0.203],[-1.523,0.302],[-1.507,-0.037],
[-3.183,0.217],[-3.143,-0.352],[-3.107,0.147],[-3.073,-0.263],[-3.037,0.317],[-3.003,-0.147],[-2.967,0.052],[-2.933,-0.292],[-2.903,0.183],[-2.867,-0.112],[-2.837,0.067],[-2.803,-0.327],[-2.773,0.157],[-2.743,-0.072],[-2.713,0.243],[-2.683,-0.257],[-2.653,0.067],[-2.623,-0.362],[-2.593,-0.152],[-2.563,0.183],[-2.533,-0.052],[-2.503,-0.237],[-2.473,0.223],[-2.443,-0.112],[-2.413,0.087],[-2.383,-0.252],[-2.353,0.193],[-2.323,-0.167],[-2.293,0.057],[-2.263,-0.213],[-2.233,0.283],[-2.203,-0.087],[-2.173,0.127],[-2.143,-0.227],[-2.113,0.323],[-2.083,-0.132],[-2.053,0.117],[-2.023,-0.052],[-1.993,0.332],[-1.963,-0.127],[-1.933,0.227],[-1.903,0.037],[-1.873,-0.183],[-1.843,0.292],[-1.813,0.123],[-1.783,-0.063],[-1.753,0.262],[-1.723,-0.137],[-1.693,0.083],[-1.663,0.213],[-1.633,-0.077],[-1.603,0.062],[-1.573,0.273],[-1.543,0.047],[-1.513,-0.123],
[-3.593,-0.287],[-3.627,-0.563],[-3.652,0.127],[-3.688,-0.417],[-3.717,-0.162],[-3.748,0.062],[-3.773,-0.527],[-3.812,-0.287],[-3.843,0.103],[-3.874,-0.653],[-3.907,-0.233],[-3.938,-0.563],[-3.963,0.273],[-3.597,0.383],[-3.527,0.517],[-3.437,0.453],[-3.373,0.612],[-3.257,0.523],[-3.183,0.623],[-3.057,0.587],[-2.937,0.623],[-2.803,0.667],[-2.657,0.673],[-2.523,0.612],[-2.377,0.573],[-2.247,0.643],[-2.147,0.853],[-2.037,0.723],[-1.923,0.712],[-1.787,0.823],[-1.663,0.687],[-1.548,0.763],[-3.533,-0.817],[-3.453,-1.012],[-3.367,-0.867],[-3.287,-1.063],[-3.197,-0.753],[-3.127,-0.923],[-3.047,-0.813],[-2.967,-0.887],[-2.887,-0.783],[-2.807,-0.952],[-2.727,-0.813],[-2.647,-0.732],[-2.567,-0.912],[-2.487,-0.767],[-2.407,-0.723],[-2.327,-0.843],[-2.247,-0.702],[-2.167,-0.617],[-2.087,-0.653],[-1.997,-0.567],[-1.917,-0.603],[-1.827,-0.652],[-1.737,-0.547],[-1.647,-0.483],[-1.557,-0.452],[-3.163,-1.133],[-3.243,-1.333],[-3.327,-1.223],[-3.407,-1.573],[-3.487,-1.287],[-3.567,-1.533],[-3.647,-1.412],[-3.727,-1.193],[-3.807,-1.687],[-3.887,-1.563]];
const mwSrCore = [[-3.287,0.163],[-3.263,-0.287],[-3.241,0.043],[-3.226,-0.512],[-3.204,-0.167],[-3.187,0.312],[-3.163,-0.067],[-3.147,-0.433],[-3.126,0.133],[-3.113,-0.287],[-3.093,0.027],[-3.077,0.243],[-3.058,-0.427],[-3.043,-0.117],[-3.022,0.187],[-3.007,-0.263],[-2.987,0.068],[-2.973,-0.557],[-2.957,-0.197],[-2.942,0.293],[-2.923,-0.053],[-2.907,-0.437],[-2.893,0.117],[-2.873,-0.263],[-2.858,0.217],[-2.843,-0.133],[-2.826,-0.617],[-2.813,0.033],[-2.793,0.263],[-2.777,-0.343],[-2.763,-0.042],[-2.747,0.227],[-2.733,-0.463],[-2.717,0.053],[-2.703,-0.237],[-2.687,0.313],[-2.673,-0.153],[-2.657,-0.532],[-2.643,0.163],[-2.627,-0.087],[-2.613,-0.297],[-2.597,0.127],[-2.583,-0.187],[-2.567,0.277],[-2.553,-0.367],[-2.537,0.017],[-2.523,-0.153],[-2.507,0.253],[-2.493,-0.367],[-2.477,0.097],[-2.463,-0.067],[-2.447,-0.487],[-2.433,0.187],[-2.417,-0.227],[-2.403,0.037],[-2.387,-0.117],[-2.373,0.297],[-2.357,-0.383],[-2.343,-0.032],[-2.327,0.172],[-2.313,-0.247],[-2.297,0.337],[-2.283,-0.127],[-2.267,0.047],[-2.253,-0.437],[-2.237,0.212],[-2.223,-0.037],[-2.207,0.287],[-3.337,0.267],[-3.317,-0.083],[-3.357,-0.392],[-3.377,0.057],[-3.397,-0.187],[-3.417,0.183],[-3.447,-0.243],[-3.477,0.137],[-3.507,-0.413],[-3.537,0.017],[-2.867,0.367],[-2.757,0.383],[-2.647,0.417],[-2.537,0.393],[-2.427,0.357],[-2.317,0.377],[-2.967,0.407],[-3.067,0.362],[-3.167,0.347],[-2.187,-0.217],[-2.127,0.063],[-2.067,-0.187],[-2.007,0.137],[-1.947,-0.217],[-1.887,0.193],[-1.827,-0.087],[-1.767,0.172],[-1.707,0.027],[-1.647,-0.037],[-1.587,0.213],[-1.527,0.117]];

// [galaxy, marker, [Fe/H], [X/Fe]]
const euMarkers = [
["BOOTESII","tri",-3.54,2.40],["SEGUE1","tri",-3.78,2.0],["URSAMAJORII","tri",-3.60,2.0],["HOROLOGIUMI","tri",-2.60,2.0],["HOROLOGIUMI","tri",-2.43,2.0],["PISCESII","tri",-2.01,2.0],
["BOOTESII","tri",-3.42,1.25],["SEGUE2","tri",-3.34,1.30],["SEGUE2","tri",-3.23,1.26],["TUCANAII","tri",-3.08,1.0],["TUCANAII","tri",-2.93,0.92],["TUCANAII","tri",-2.92,0.66],["TUCANAII","tri",-2.69,0.76],["TUCANAII","tri",-2.41,0.20],
["GRUSI","tri",-3.71,0.54],["URSAMAJORII","tri",-3.28,0.56],["URSAMAJORII","tri",-3.15,0.63],["GRUSII","tri",-2.94,0.51],["HOROLOGIUMI","tri",-2.83,0.48],["PISCESII","tri",-2.49,0.78],["SEGUE1","tri",-2.40,0.49],["SEGUE1","tri",-2.32,0.31],["PISCESII","tri",-2.55,0.36],["GRUSII","tri",-2.69,0.11],["TRIANGULUMII","tri",-2.925,0.03],["LEOIV","tri",-2.36,0.05],["LEOIV","tri",-2.58,-0.34],["URSAMAJORII","tri",-2.39,-0.33],["SEGUE1","tri",-1.67,0.0],
["GRUSII","star",-2.49,0.30],
["TUCANAIII","star",-2.69,0.56],["TUCANAIII","star",-2.69,0.44],["TUCANAIII","star",-2.61,0.49],["TUCANAIII","star",-2.58,0.22],["TUCANAIII","star",-2.25,0.60],
["RETICULUMII","star",-2.775,2.11],["RETICULUMII","star",-3.04,1.72],["RETICULUMII","star",-2.93,1.78],["RETICULUMII","star",-2.76,1.75],["RETICULUMII","star",-2.73,1.70],["RETICULUMII","star",-2.08,1.77],["RETICULUMII","star",-2.19,0.95]];

const baMarkers = [
["GRUSI","dot",-3.71,-0.55],["TUCANAII","dot",-3.34,-0.85],["SEGUE2","dot",-3.23,-0.90],["BOOTESI","dot",-3.21,-1.0],["TRIANGULUMII","dot",-3.28,-1.10],["TRIANGULUMII","dot",-3.15,-1.31],["TUCANAII","dot",-3.08,-1.31],["LEOIV","dot",-3.19,-1.45],["BOOTESI","dot",-2.97,-0.99],["TUCANAII","dot",-2.93,-1.27],["CARINAII","dot",-2.90,-1.23],["HOROLOGIUMI","dot",-2.83,-1.10],["LEOIV","dot",-2.94,-1.87],["TUCANAII","dot",-2.92,-1.90],["PISCESII","dot",-2.92,-2.37],["GRUSII","dot",-2.69,-1.26],["GRUSI","dot",-2.64,-1.15],["HOROLOGIUMI","dot",-2.60,-1.05],["PISCESII","dot",-2.58,-1.12],["COMABERENICES","dot",-2.58,-1.27],["CARINAII","dot",-2.66,-1.52],["GRUSI","dot",-2.55,-1.55],
["HERCULES","dot",-2.53,-0.52],["SEGUE2","dot",-2.50,-0.57],["HERCULES","dot",-2.52,-0.92],["GRUSI","dot",-2.49,-0.92],["BOOTESI","dot",-2.52,-0.39],["PISCESII","dot",-2.49,-0.76],["TUCANAII","dot",-2.41,-1.0],["PISCESII","dot",-2.39,-0.52],["CARINAII","dot",-2.35,-0.57],["PISCESII","dot",-2.31,-0.64],["PISCESII","dot",-2.33,-0.76],["CARINAII","dot",-2.31,-0.84],["HERCULES","dot",-2.27,-0.87],["GRUSI","dot",-2.16,-0.67],["CARINAII","dot",-2.11,-0.56],["GRUSI","dot",-1.96,-0.41],["TRIANGULUMII","dot",-2.40,-1.98],["CARINAIII","dot",-2.23,-2.02],["CARINAII","dot",-2.19,-2.10],["LEOIV","dot",-2.36,-2.29],
["BOOTESII","tri",-3.54,0.11],["BOOTESII","tri",-3.42,-1.34],["BOOTESII","tri",-2.93,-0.62],["BOOTESII","tri",-2.92,-1.49],["BOOTESII","tri",-2.87,-1.30],["BOOTESII","tri",-2.63,-1.70],["HERCULES","tri",-2.83,0.19],["URSAMAJORII","tri",-3.78,-0.64],["URSAMAJORII","tri",-3.60,-0.45],["URSAMAJORII","tri",-2.32,-2.11],["LEOIV","tri",-2.88,-1.03],["PISCESII","tri",-2.01,-0.21],["LEOIV","tri",-2.18,-1.43],["HERCULES","tri",-2.09,-2.05],["HERCULES","tri",-2.07,-2.09],["TUCANAII","tri",-2.69,-1.89],["CANESVENATICII","tri",-2.58,-1.32],["HOROLOGIUMI","tri",-2.43,-1.07],
["GRUSII","star",-2.49,-0.48],
["TUCANAIII","star",-2.605,0.13],["TUCANAIII","star",-2.58,0.155],["TUCANAIII","star",-2.69,-0.06],["TUCANAIII","star",-2.69,-0.20],["TUCANAIII","star",-2.25,-0.155],
["RETICULUMII","star",-2.77,1.40],["RETICULUMII","star",-2.73,1.40],["RETICULUMII","star",-2.08,1.36],["RETICULUMII","star",-3.045,0.98],["RETICULUMII","star",-2.94,0.81],["RETICULUMII","star",-2.765,0.80],["RETICULUMII","star",-2.19,0.36]];

const srMarkers = [
["CANESVENATICII","dot",-2.58,1.38],["PISCESII","dot",-2.58,0.21],["HERCULES","dot",-2.53,0.14],["HERCULES","dot",-2.525,0.07],["TUCANAII","dot",-2.41,-0.39],["HERCULES","dot",-2.28,-0.47],["TRIANGULUMII","dot",-3.15,-0.62],["HERCULES","dot",-2.83,-0.78],["TRIANGULUMII","dot",-3.28,-0.895],["HOROLOGIUMI","dot",-2.83,-1.02],["LEOIV","dot",-3.19,-1.02],["TUCANAII","dot",-3.23,-1.06],["GRUSI","dot",-3.71,-1.32],["TUCANAII","dot",-3.34,-1.30],["CARINAII","dot",-2.91,-1.26],["TUCANAII","dot",-3.08,-1.41],["TUCANAII","dot",-2.93,-1.47],["GRUSII","dot",-2.93,-1.55],["GRUSI","dot",-2.92,-1.52],["TUCANAII","dot",-2.92,-1.61],["BOOTESII","dot",-3.42,-1.58],["CARINAIII","dot",-3.89,-1.73],["CARINAII","dot",-3.03,-1.84],["GRUSII","dot",-2.94,-1.91],["GRUSII","dot",-2.69,-1.89],["CARINAII","dot",-2.66,-1.80],["GRUSI","dot",-3.18,-2.17],["SEGUE2","dot",-3.54,-2.21],["COMABERENICES","dot",-2.58,-1.30],["CARINAII","dot",-2.49,-1.42],["URSAMAJORII","dot",-2.39,-1.39],["LEOIV","dot",-2.36,-1.32],["SEGUE2","dot",-2.19,-1.385],["CARINAIII","dot",-2.23,-1.40],["CARINAII","dot",-2.31,-1.65],["GRUSI","dot",-2.555,-1.98],["GRUSI","dot",-2.49,-2.05],["SEGUE2","dot",-2.19,-2.37],
["BOOTESII","tri",-3.54,0.0],["LEOIV","tri",-2.88,0.05],["URSAMAJORII","tri",-3.60,-0.895],["URSAMAJORII","tri",-3.78,-1.29],["URSAMAJORII","tri",-3.57,-1.29],["BOOTESII","tri",-2.87,-1.20],["BOOTESII","tri",-2.92,-2.0],["BOOTESII","tri",-2.86,-1.90],["TUCANAII","tri",-2.69,-2.0],["BOOTESII","tri",-2.63,-2.40],["LEOIV","tri",-2.18,-1.37],
["GRUSII","star",-2.49,-1.14],
["TUCANAIII","star",-2.69,0.05],["TUCANAIII","star",-2.61,0.085],["TUCANAIII","star",-2.58,-0.04],["TUCANAIII","star",-2.69,-0.265],["TUCANAIII","star",-2.25,-0.39],
["RETICULUMII","star",-3.04,0.615],["RETICULUMII","star",-2.76,0.59],["RETICULUMII","star",-2.93,0.30],["RETICULUMII","star",-2.775,0.30],["RETICULUMII","star",-2.73,0.225],["RETICULUMII","star",-2.08,0.38],["RETICULUMII","star",-2.19,-0.35]];

const colorOf = d3.scaleOrdinal().domain(galaxies).range(galaxyColors);
const svg = d3.select("#c");
const defs = svg.append("defs");

const panels = [
  {id:"eu", left:86, top:5, w:426, h:344, yDomain:[-1,2.5], yTicks:euTicks, label:"[Eu/Fe]", labelX:31, xLabelY:400, mw:mwEu.concat(mwEuExtra), marks:euMarkers},
  {id:"ba", left:602, top:5, w:411, h:343, yDomain:[-2.5,1.5], yTicks:baTicks, label:"[Ba/Fe]", labelX:548, xLabelY:400, mw:mwBa.concat(mwBaExtra, mwBaCore), marks:baMarkers},
  {id:"sr", left:86, top:418, w:426, h:343, yDomain:[-2.5,1.5], yTicks:srTicks, label:"[Sr/Fe]", labelX:31, xLabelY:820, mw:mwSr.concat(mwSrExtra, mwSrCore), marks:srMarkers}
];

const starPath = d3.symbol(d3.symbolStar, 74)();
const triPath = "M-6,-5.5L6,-5.5L0,5.5Z";

panels.forEach(p => {
  const x = d3.scaleLinear().domain([-4,-1.5]).range([0,p.w]);
  const y = d3.scaleLinear().domain(p.yDomain).range([p.h,0]);
  const g = svg.append("g").attr("transform",`translate(${p.left},${p.top})`);
  defs.append("clipPath").attr("id","clip-"+p.id).append("rect").attr("width",p.w).attr("height",p.h);
  const plot = g.append("g").attr("clip-path",`url(#clip-${p.id})`);
  plot.selectAll("circle.mw").data(p.mw).join("circle").attr("class","mw")
    .attr("cx",d=>x(d[0])).attr("cy",d=>y(d[1])).attr("r",1.6).attr("fill",mwColor);
  plot.append("line").attr("x1",0).attr("x2",p.w).attr("y1",y(0)).attr("y2",y(0))
    .attr("stroke","#222").attr("stroke-width",2);
  p.marks.forEach(m => {
    const [gal, shape, fx, fy] = m;
    const c = colorOf(gal);
    const tx = x(fx), ty = y(fy);
    if (shape === "dot") plot.append("circle").attr("cx",tx).attr("cy",ty).attr("r",4.6).attr("fill",c);
    else plot.append("path").attr("d", shape === "star" ? starPath : triPath)
      .attr("transform",`translate(${tx},${ty})`).attr("fill",c);
  });
  const xa = g.append("g").attr("transform",`translate(0,${p.h})`)
    .call(d3.axisBottom(x).tickValues(xTicks).tickFormat(d3.format(".1f")).tickSize(6).tickPadding(6));
  const ya = g.append("g").call(d3.axisLeft(y).tickValues(p.yTicks).tickFormat(d3.format("d")).tickSize(6).tickPadding(7));
  [xa,ya].forEach(a => {
    a.select(".domain").remove();
    a.selectAll(".tick line").attr("stroke","#444").attr("stroke-width",1.5);
    a.selectAll(".tick text").attr("font-size",22.5).attr("fill","#222").attr("font-family","DejaVu Sans");
  });
  g.append("rect").attr("width",p.w).attr("height",p.h).attr("fill","none").attr("stroke","#444").attr("stroke-width",1.5);
  svg.append("text").attr("x",p.left+p.w/2).attr("y",p.xLabelY).attr("text-anchor","middle")
    .attr("font-size",24).attr("fill","#222").text("[Fe/H]");
  svg.append("text").attr("transform",`translate(${p.labelX},${p.top+p.h/2}) rotate(-90)`).attr("text-anchor","middle")
    .attr("font-size",24).attr("fill","#222").text(p.label);
});

// legend
const legendItems = galaxies.map((g,i)=>({name:g, color:galaxyColors[i], size:24})).concat([{name:mwLabel, color:"#8f9195", size:18}]);
const lg = svg.append("g");
legendItems.forEach((d,i) => {
  const col = i < 10 ? 0 : 1, row = i % 10;
  lg.append("text").attr("x", col ? 866 : 607).attr("y", 452 + row*34.3)
    .attr("font-size", d.size).attr("fill", d.color).text(d.name);
});
</script></body></html>
